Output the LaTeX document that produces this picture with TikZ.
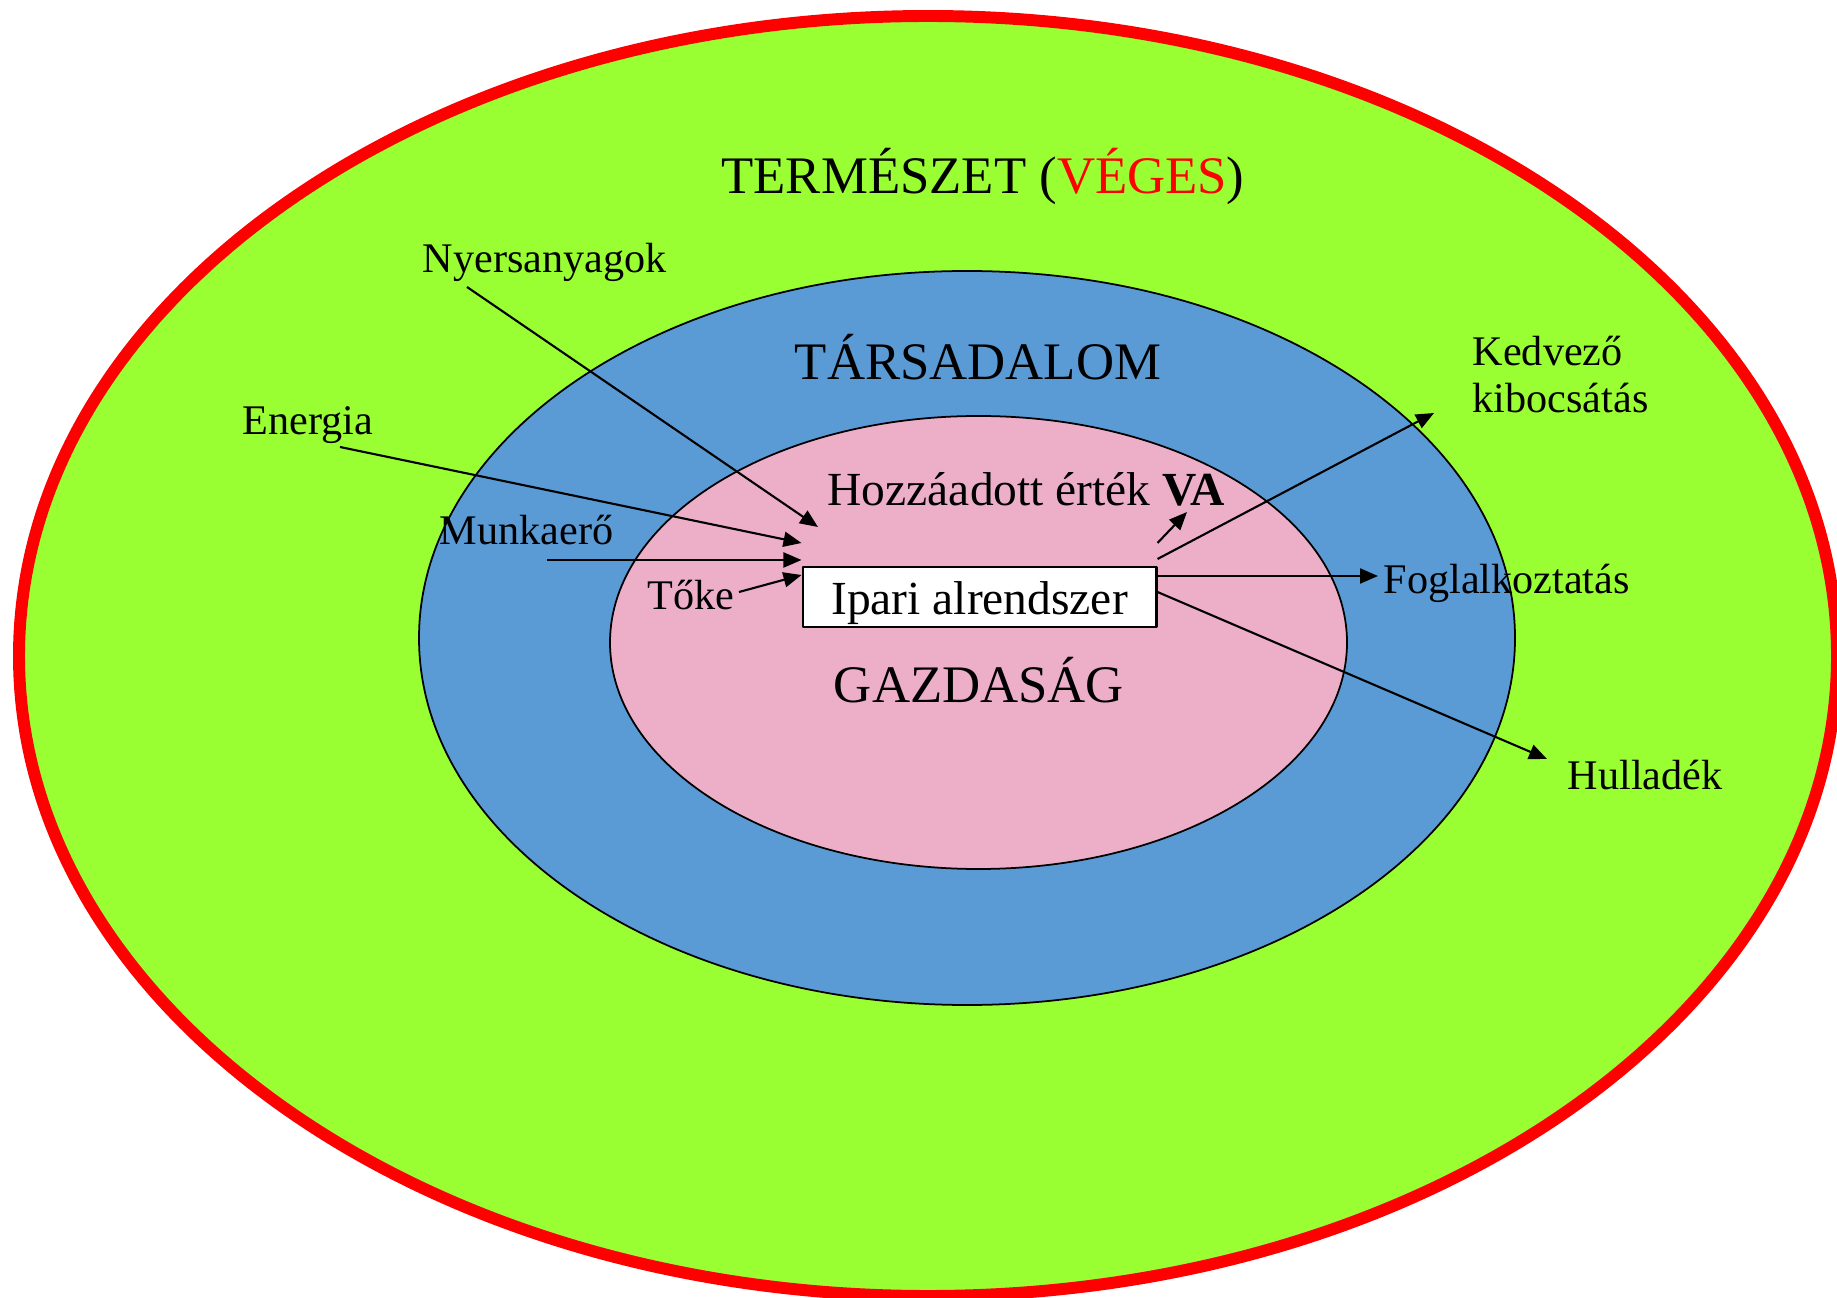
\documentclass[tikz,border=0pt]{standalone}
\usepackage{fontspec}
\setmainfont{Liberation Serif}
\usetikzlibrary{arrows.meta}
\definecolor{termzold}{RGB}{153,255,51}
\definecolor{tarskek}{RGB}{91,155,213}
\definecolor{gazdrozsa}{RGB}{237,175,200}
\begin{document}
\begin{tikzpicture}[x=0.01cm, y=-0.01cm, line join=round, >={Triangle[length=0.18cm,width=0.15cm]},
    nagy/.style={font=\fontsize{15}{18}\selectfont, anchor=base, inner sep=0pt},
    kozep/.style={font=\fontsize{13.5}{16}\selectfont, inner sep=0pt},
    cimke/.style={font=\fontsize{12}{13.6}\selectfont, anchor=base west, inner sep=0pt, align=left},
    doboz/.style={draw, fill=white, line width=0.8pt, kozep, minimum width=3.53cm, text height=0.47cm, text depth=0.13cm},
    nyil/.style={->, line width=0.6pt}]
    \useasboundingbox (0,0) rectangle (1837,1298);
    \clip (0,0) rectangle (1837,1298);
    \draw[red, fill=termzold, line width=3.4pt] (928,656) ellipse [x radius=909, y radius=640];
    \draw[line width=0.5pt, fill=tarskek] (967,638) ellipse [x radius=548, y radius=367];
    \draw[line width=0.5pt, fill=gazdrozsa] (978.5,642.5) ellipse [x radius=368.5, y radius=226.5];
    \node[nagy] (termeszet) at (983,194) {TERMÉSZET (\textcolor{red}{VÉGES})};
    \node[nagy] (tarsadalom) at (978,380) {TÁRSADALOM};
    \node[nagy] (gazdasag) at (979,703) {GAZDASÁG};
    \node[kozep, anchor=base west] (hozzaadott) at (827,506) {Hozzáadott érték \textbf{VA}};
    \node[doboz] (ipari) at (979.5,597) {Ipari alrendszer};
    \node[cimke] (nyers) at (422,273) {Nyersanyagok};
    \node[cimke] (energia) at (242,435) {Energia};
    \node[cimke] (munka) at (439,545) {Munkaerő};
    \node[cimke] (toke) at (647,610) {Tőke};
    \node[cimke] (kedvezo) at (1472,413) {Kedvező\\kibocsátás};
    \node[cimke] (fogl) at (1383,594) {Foglalkoztatás};
    \node[cimke] (hulladek) at (1567,790) {Hulladék};
    \coordinate (nyersKi) at (467,287);
    \coordinate (nyersBe) at (818,527);
    \coordinate (energiaKi) at (340,447);
    \coordinate (munkaKi) at (547,560);
    \coordinate (tokeKi) at (739,592);
    \coordinate (vaBe) at (1187,512);
    \coordinate (kedvezoBe) at (1434,413);
    \coordinate (foglBe) at (1378,576);
    \coordinate (hulladekBe) at (1547,759);
    \draw[nyil] (nyersKi) -- (nyersBe);
    \foreach \honnan/\y in {energiaKi/543, munkaKi/560, tokeKi/575}
        \draw[nyil] (\honnan) -- (ipari.west |- 0,\y);
    \draw[nyil] (ipari.east |- 0,543) -- (vaBe);
    \draw[nyil] (ipari.east |- 0,559) -- (kedvezoBe);
    \draw[nyil] (ipari.east |- 0,576) -- (foglBe);
    \draw[nyil] (ipari.east |- 0,592) -- (hulladekBe);
\end{tikzpicture}
\end{document}
